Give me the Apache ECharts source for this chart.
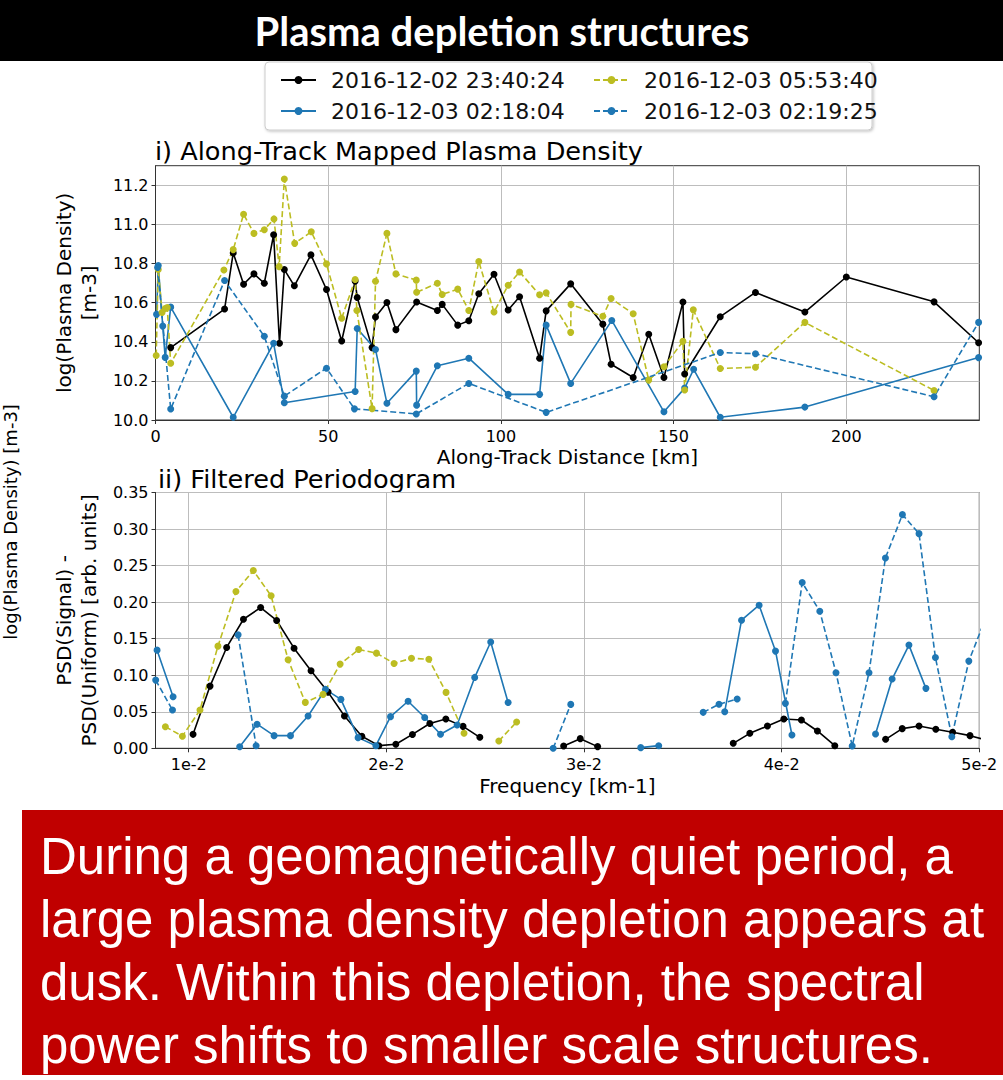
<!DOCTYPE html>
<html><head><meta charset="utf-8">
<script src="https://cdn.jsdelivr.net/npm/echarts@6/dist/echarts.min.js"></script>
<style>html,body{margin:0;padding:0;background:#fff}#c{width:1003px;height:1080px}</style>
</head><body><div id="c"></div>
<script>
// ---------- series names ----------
const nameBlack = '2016-12-02 23:40:24';
const nameBlue = '2016-12-03 02:18:04';
const nameYellow = '2016-12-03 05:53:40';
const nameBlueDash = '2016-12-03 02:19:25';

// ---------- panel i: along-track density ----------
const kmBlack = [4.4,20.0,22.5,25.5,28.5,31.5,34.2,35.9,37.3,40.2,45.0,49.5,53.9,57.8,58.4,62.7,63.7,67.0,69.6,75.6,81.6,83.0,87.5,90.7,93.6,98.0,102.1,105.4,111.2,113.1,120.2,129.5,131.9,138.3,142.8,147.2,152.7,153.2,163.5,173.7,188.0,200.0,225.4,238.3];
const densBlack = [10.37,10.567,10.854,10.694,10.747,10.699,10.947,10.392,10.769,10.686,10.844,10.667,10.404,10.71,10.626,10.37,10.527,10.601,10.462,10.603,10.56,10.591,10.485,10.507,10.645,10.745,10.562,10.63,10.316,10.558,10.696,10.49,10.285,10.217,10.438,10.217,10.603,10.235,10.528,10.652,10.552,10.731,10.604,10.395];

const kmBlue = [0.3,0.8,2.1,2.8,4.4,22.5,34.2,37.3,57.8,58.4,63.7,67.0,75.5,75.6,81.6,90.7,102.1,111.2,113.1,120.2,132.1,147.2,153.2,155.8,163.5,188.0,238.3];
const densBlue = [10.54,10.79,10.48,10.32,10.577,10.014,10.392,10.088,10.146,10.468,10.36,10.086,10.25,10.076,10.277,10.316,10.131,10.131,10.485,10.187,10.509,10.042,10.163,10.259,10.014,10.066,10.319];

const kmYellow = [0.2,0.8,1.9,2.8,3.4,4.4,19.8,22.5,25.5,28.5,31.5,34.3,35.8,37.3,40.3,45.1,49.5,53.9,57.8,58.3,62.7,63.7,67.0,69.6,75.5,75.6,81.6,83.0,87.5,90.7,93.6,98.0,102.1,105.4,111.2,113.1,120.2,120.3,129.5,131.9,138.3,142.8,147.2,152.7,153.2,155.7,163.5,173.7,188.0,225.4];
const densYellow = [10.33,10.77,10.55,10.57,10.575,10.29,10.767,10.871,11.052,10.954,10.973,11.028,10.784,11.232,10.903,10.962,10.798,10.52,10.718,10.56,10.058,10.709,10.954,10.747,10.715,10.653,10.699,10.642,10.669,10.56,10.81,10.552,10.689,10.757,10.64,10.65,10.448,10.591,10.53,10.621,10.543,10.204,10.272,10.402,10.153,10.563,10.263,10.27,10.499,10.151];

const kmBlueDash = [0.6,4.4,20.0,31.5,37.3,49.5,57.6,75.5,90.7,113.1,163.5,173.7,225.4,238.3];
const densBlueDash = [10.78,10.056,10.713,10.428,10.122,10.265,10.057,10.031,10.187,10.039,10.345,10.339,10.119,10.499];

// ---------- panel ii: filtered periodogram (null = gap) ----------
const freqBlack = [0.01022,0.01108,0.01192,0.01277,0.01364,0.01445,0.01533,0.01619,0.01705,0.01788,0.01876,0.01962,0.02048,0.02132,0.0222,0.02301,0.02388,0.02473,null,0.02897,0.02981,0.03069,null,0.03755,0.03839,0.03928,0.04011,0.041,0.04181,0.04269,null,0.04526,0.0461,0.04695,0.0478,0.04865,0.04953,0.05038];
const psdBlack = [0.0191,0.0851,0.138,0.1766,0.1926,0.1749,0.137,0.106,0.0769,0.0441,0.0164,0.0036,0.0055,0.019,0.034,0.040,0.030,0.015,null,0.0032,0.0132,0.0023,null,0.0068,0.0205,0.0305,0.0401,0.0387,0.0237,0.0036,null,0.0123,0.0269,0.0305,0.026,0.0219,0.0173,0.011];

const freqBlue = [0.0084,0.00921,null,0.01258,0.01346,0.01432,0.01515,0.01604,0.01692,0.0177,0.01857,0.01947,0.02021,0.0211,0.02194,0.02274,0.02358,0.02447,0.02528,0.02616,null,0.03287,0.03378,null,0.03712,0.03797,0.03886,0.03969,0.04052,null,0.04475,0.04559,0.04644,0.0473];
const psdBlue = [0.1343,0.0706,null,0.002,0.033,0.0173,0.0173,0.0442,0.0806,0.0669,0.0146,0.0036,0.0433,0.0644,0.0422,0.0193,0.0318,0.097,0.1455,0.0626,null,0.0009,0.0036,null,0.0501,0.1753,0.1958,0.133,0.0182,null,0.0196,0.0947,0.1412,0.082];

const freqYellow = [0.00882,0.00968,0.01057,0.01148,0.01239,0.01327,0.01417,0.01503,0.0159,0.0168,0.01766,0.0186,0.0195,0.02039,0.02127,0.02215,0.02302,0.02393,null,0.02569,0.02659];
const psdYellow = [0.0295,0.0166,0.0523,0.1398,0.2145,0.2432,0.2086,0.1211,0.0628,0.0738,0.1152,0.1352,0.1302,0.1161,0.1232,0.1218,0.0765,0.0205,null,0.010,0.036];

const freqBlueDash = [0.00833,0.00918,null,0.0125,0.01341,null,0.02844,0.02933,null,0.03603,0.03683,0.03775,null,0.04019,0.04104,0.04193,0.04275,0.04357,0.04442,0.04525,0.04611,0.04695,0.04778,0.04861,0.04947,0.05032];
const psdBlueDash = [0.0933,0.0523,null,0.1552,0.0036,null,0.0,0.0601,null,0.0492,0.0603,0.0674,null,0.0615,0.2268,0.1876,0.1034,0.0032,0.1034,0.2605,0.3197,0.2937,0.1243,0.0159,0.1193,0.178];

// ---------- ticks ----------
const kmTicks = [0,50,100,150,200];
const densTicks = [10.0,10.2,10.4,10.6,10.8,11.0,11.2];
const freqTicks = [0.01,0.02,0.03,0.04,0.05];
const freqTickLabels = ['1e-2','2e-2','3e-2','4e-2','5e-2'];

const bannerText = 'Plasma depletion structures';
const panel1Title = 'i) Along-Track Mapped Plasma Density';
const panel2Title = 'ii) Filtered Periodogram';
const sideLabel = 'log(Plasma Density) [m-3]';
const boxLines = [
  'During a geomagnetically quiet period, a',
  'large plasma density depletion appears at',
  'dusk. Within this depletion, the spectral',
  'power shifts to smaller scale structures.'
];

// ---------- build ----------
const C_BLACK = '#000000', C_BLUE = '#1f77b4', C_YEL = '#bcbd22';
const FONT = 'DejaVu Sans';

function pairs(xs, ys) {
  const out = [];
  let lastX = xs[0];
  for (let i = 0; i < xs.length; i++) {
    if (ys[i] === null || xs[i] === null) { out.push([lastX, '-']); }
    else { out.push([xs[i], ys[i]]); lastX = xs[i]; }
  }
  return out;
}
function mk(name, xs, ys, color, dashed, gi) {
  return {
    name: name, type: 'line', xAxisIndex: gi, yAxisIndex: gi,
    data: pairs(xs, ys), symbol: 'circle', symbolSize: 7, showSymbol: true,
    connectNulls: false, clip: true, animation: false,
    itemStyle: { color: color },
    lineStyle: { color: color, width: 1.6, type: dashed ? [6, 3] : 'solid' },
    emphasis: { disabled: true }
  };
}

const axisLineStyle = { show: true, lineStyle: { color: '#333', width: 1 } };
const splitStyle = { show: true, lineStyle: { color: '#bdbdbd', width: 1 } };
const labelBase = { color: '#000', fontFamily: FONT, fontSize: 16 };
const nameStyle = { color: '#000', fontFamily: FONT, fontSize: 20, lineHeight: 25 };
const legendText = { color: '#111', fontFamily: FONT, fontSize: 22, padding: [0, 0, 0, 10] };

const chart = echarts.init(document.getElementById('c'), null, { renderer: 'svg', width: 1003, height: 1080 });
const option = {
  animation: false,
  backgroundColor: '#fff',
  grid: [
    { left: 155.5, top: 165.7, width: 823.8, height: 254.3, show: true, borderColor: '#333', borderWidth: 1, backgroundColor: 'transparent' },
    { left: 155.5, top: 492.5, width: 823.8, height: 255.8, show: true, borderColor: '#333', borderWidth: 1, backgroundColor: 'transparent' }
  ],
  xAxis: [
    { type: 'value', gridIndex: 0, min: 0, max: 238.5,
      axisLine: axisLineStyle, axisTick: { show: true, length: 4, customValues: kmTicks, lineStyle: { color: '#333' } },
      axisLabel: Object.assign({ margin: 8, customValues: kmTicks, formatter: v => String(Math.round(v)) }, labelBase),
      splitLine: splitStyle,
      name: 'Along-Track Distance [km]', nameLocation: 'middle', nameGap: 23, nameTextStyle: nameStyle },
    { type: 'value', gridIndex: 1, min: 0.00832, max: 0.05,
      axisLine: axisLineStyle, axisTick: { show: true, length: 4, customValues: freqTicks, lineStyle: { color: '#333' } },
      axisLabel: Object.assign({ margin: 8, customValues: freqTicks, formatter: v => freqTickLabels[Math.round(v * 100) - 1] || '' }, labelBase),
      splitLine: splitStyle,
      name: 'Frequency [km-1]', nameLocation: 'middle', nameGap: 24, nameTextStyle: nameStyle }
  ],
  yAxis: [
    { type: 'value', gridIndex: 0, min: 10.0, max: 11.3,
      axisLine: axisLineStyle, axisTick: { show: true, length: 4, customValues: densTicks, lineStyle: { color: '#333' } },
      axisLabel: Object.assign({ margin: 7, customValues: densTicks, formatter: v => v.toFixed(1) }, labelBase),
      splitLine: splitStyle,
      name: 'log(Plasma Density)\n[m-3]', nameLocation: 'middle', nameRotate: 90, nameGap: 34, nameTextStyle: nameStyle },
    { type: 'value', gridIndex: 1, min: 0, max: 0.35, interval: 0.05,
      axisLine: axisLineStyle, axisTick: { show: true, length: 4, lineStyle: { color: '#333' } },
      axisLabel: Object.assign({ margin: 7, formatter: v => v.toFixed(2) }, labelBase),
      splitLine: splitStyle,
      name: 'PSD(Signal) -\nPSD(Uniform) [arb. units]', nameLocation: 'middle', nameRotate: 90, nameGap: 34, nameTextStyle: nameStyle }
  ],
  legend: [
    { orient: 'vertical', left: 280, top: 69, padding: 0, itemWidth: 35, itemHeight: 10, itemGap: 9,
      data: [nameBlack, nameBlue], textStyle: legendText, selectedMode: false },
    { orient: 'vertical', left: 593, top: 69, padding: 0, itemWidth: 35, itemHeight: 10, itemGap: 9,
      data: [nameYellow, nameBlueDash], textStyle: legendText, selectedMode: false }
  ],
  graphic: [
    { type: 'rect', shape: { x: 0, y: 0, width: 1003, height: 61 }, style: { fill: '#000' }, z: 0 },
    { type: 'text', x: 502, y: 31, style: { text: bannerText, fill: '#fff', font: 'bold 40px Lato', align: 'center', verticalAlign: 'middle' } },
    { type: 'rect', shape: { x: 265, y: 62, width: 607, height: 68, r: 4 }, style: { fill: '#fff', stroke: '#cccccc', lineWidth: 1, shadowBlur: 3, shadowColor: 'rgba(0,0,0,0.25)', shadowOffsetX: 1, shadowOffsetY: 1 }, z: -1 },
    { type: 'text', x: 155, y: 151, style: { text: panel1Title, fill: '#000', font: '25.6px "DejaVu Sans"', align: 'left', verticalAlign: 'middle' } },
    { type: 'text', x: 158, y: 479, style: { text: panel2Title, fill: '#000', font: '25.6px "DejaVu Sans"', align: 'left', verticalAlign: 'middle' } },
    { type: 'text', x: 10, y: 522, rotation: Math.PI / 2, style: { text: sideLabel, fill: '#000', font: '18px "DejaVu Sans"', align: 'center', verticalAlign: 'middle' } },
    { type: 'rect', shape: { x: 22, y: 810, width: 981, height: 265 }, style: { fill: '#c00000' } },
    { type: 'text', x: 40, y: 856, style: { text: boxLines[0], fill: '#fff', font: '51px "Liberation Sans"', align: 'left', verticalAlign: 'middle' } },
    { type: 'text', x: 40, y: 919, style: { text: boxLines[1], fill: '#fff', font: '51px "Liberation Sans"', align: 'left', verticalAlign: 'middle' } },
    { type: 'text', x: 40, y: 982, style: { text: boxLines[2], fill: '#fff', font: '51px "Liberation Sans"', align: 'left', verticalAlign: 'middle' } },
    { type: 'text', x: 40, y: 1045, style: { text: boxLines[3], fill: '#fff', font: '51px "Liberation Sans"', align: 'left', verticalAlign: 'middle' } }
  ],
  series: [
    mk(nameBlack, kmBlack, densBlack, C_BLACK, false, 0),
    mk(nameBlue, kmBlue, densBlue, C_BLUE, false, 0),
    mk(nameYellow, kmYellow, densYellow, C_YEL, true, 0),
    mk(nameBlueDash, kmBlueDash, densBlueDash, C_BLUE, true, 0),
    mk(nameBlack, freqBlack, psdBlack, C_BLACK, false, 1),
    mk(nameBlue, freqBlue, psdBlue, C_BLUE, false, 1),
    mk(nameYellow, freqYellow, psdYellow, C_YEL, true, 1),
    mk(nameBlueDash, freqBlueDash, psdBlueDash, C_BLUE, true, 1)
  ]
};
chart.setOption(option);
</script></body></html>
